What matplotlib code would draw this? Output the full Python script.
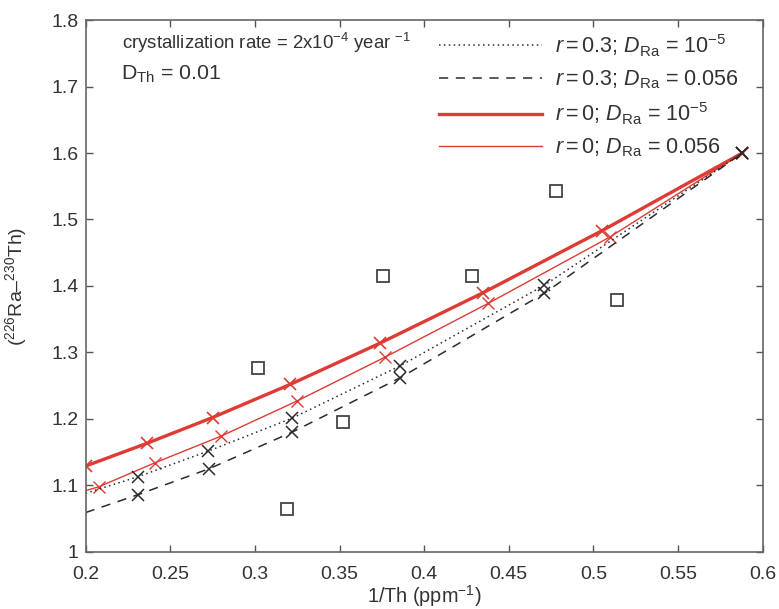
import matplotlib
matplotlib.use("Agg")
import matplotlib.pyplot as plt
from matplotlib.ticker import FormatStrFormatter, MultipleLocator

plt.rcParams['font.family'] = ['Liberation Sans', 'DejaVu Sans']
plt.rcParams['mathtext.fontset'] = 'custom'
plt.rcParams['mathtext.rm'] = 'Liberation Sans'
plt.rcParams['mathtext.it'] = 'Liberation Sans:italic'

# measured samples
sample_x = [0.302, 0.319, 0.352, 0.3755, 0.428, 0.478, 0.514]
sample_y = [1.277, 1.065, 1.195, 1.415, 1.415, 1.543, 1.379]

# model curves (marked points along each path)
r0_low_x = [0.2, 0.236, 0.275, 0.321, 0.374, 0.435, 0.505, 0.588]
r0_low_y = [1.129, 1.163, 1.202, 1.252, 1.314, 1.390, 1.483, 1.600]

r0_high_x = [0.2, 0.208, 0.241, 0.280, 0.325, 0.377, 0.438, 0.510, 0.588]
r0_high_y = [1.092, 1.098, 1.134, 1.174, 1.227, 1.293, 1.374, 1.474, 1.600]

r03_low_x = [0.2, 0.231, 0.272, 0.322, 0.386, 0.471, 0.588]
r03_low_y = [1.088, 1.113, 1.151, 1.201, 1.280, 1.401, 1.600]

r03_high_x = [0.2, 0.231, 0.273, 0.322, 0.386, 0.471, 0.588]
r03_high_y = [1.059, 1.086, 1.125, 1.180, 1.262, 1.389, 1.600]

red = '#de3b34'
ink = '#2b2b2b'

fig = plt.figure(figsize=(7.79, 6.09), dpi=100)
ax = fig.add_axes([0.110, 0.094, 0.869, 0.873])

l3, = ax.plot(r0_low_x, r0_low_y, color=red, lw=2.4, marker='x', ms=8, mew=1.2,
              label=r'$r = 0$; $D_{\rm Ra}$ = 10$^{-5}$')
l4, = ax.plot(r0_high_x, r0_high_y, color=red, lw=1.0, marker='x', ms=8, mew=1.0,
              markevery=list(range(1, len(r0_high_x))),
              label=r'$r = 0$; $D_{\rm Ra}$ = 0.056')
l1, = ax.plot(r03_low_x, r03_low_y, color=ink, lw=1.1, ls=(0, (1, 2.2)), marker='x',
              ms=8, mew=1.1, markevery=list(range(1, len(r03_low_x))),
              label=r'$r = 0.3$; $D_{\rm Ra}$ = 10$^{-5}$')
l2, = ax.plot(r03_high_x, r03_high_y, color=ink, lw=1.1, ls=(0, (6, 5)), marker='x',
              ms=8, mew=1.1, markevery=list(range(1, len(r03_high_x))),
              label=r'$r = 0.3$; $D_{\rm Ra}$ = 0.056')

ax.plot(sample_x, sample_y, ls='none', marker='s', ms=9, mfc='white', mec='#444444', mew=1.3)

ax.set_xlim(0.2, 0.6)
ax.set_ylim(1.0, 1.8)
ax.xaxis.set_major_locator(MultipleLocator(0.05))
ax.yaxis.set_major_locator(MultipleLocator(0.1))
ax.xaxis.set_major_formatter(FormatStrFormatter('%g'))
ax.yaxis.set_major_formatter(FormatStrFormatter('%g'))
ax.tick_params(direction='in', top=True, right=True, length=5, width=1,
               color='#555555', labelsize=14, labelcolor='#333333')
ax.tick_params(axis='x', pad=10)
ax.tick_params(axis='y', pad=5)
for s in ax.spines.values():
    s.set_color('#666666')
    s.set_linewidth(1.2)

ax.set_xlabel(r'1/Th (ppm$^{-1}$)', fontsize=14.3, color='#333333', labelpad=0)
ax.set_ylabel(r'($^{226}$Ra–$^{230}$Th)', fontsize=14, color='#333333', labelpad=16)

ax.text(0.053, 0.957, r'crystallization rate = 2x10$^{-4}$ year $^{-1}$', transform=ax.transAxes,
        fontsize=13.4, color='#333333', va='center')
ax.text(0.052, 0.898, r'D$_{\rm Th}$ = 0.01', transform=ax.transAxes,
        fontsize=15.4, color='#333333', va='center')

leg = ax.legend(handles=[l1, l2, l3, l4], loc='upper right', bbox_to_anchor=(0.99, 1.01),
                frameon=False, fontsize=15.5, handlelength=4.8, handletextpad=0.6,
                labelspacing=0.45, borderpad=0.3)
for t in leg.get_texts():
    t.set_color('#333333')
for h in leg.legend_handles:
    h.set_marker('')

fig.savefig('out.png', dpi=100)
